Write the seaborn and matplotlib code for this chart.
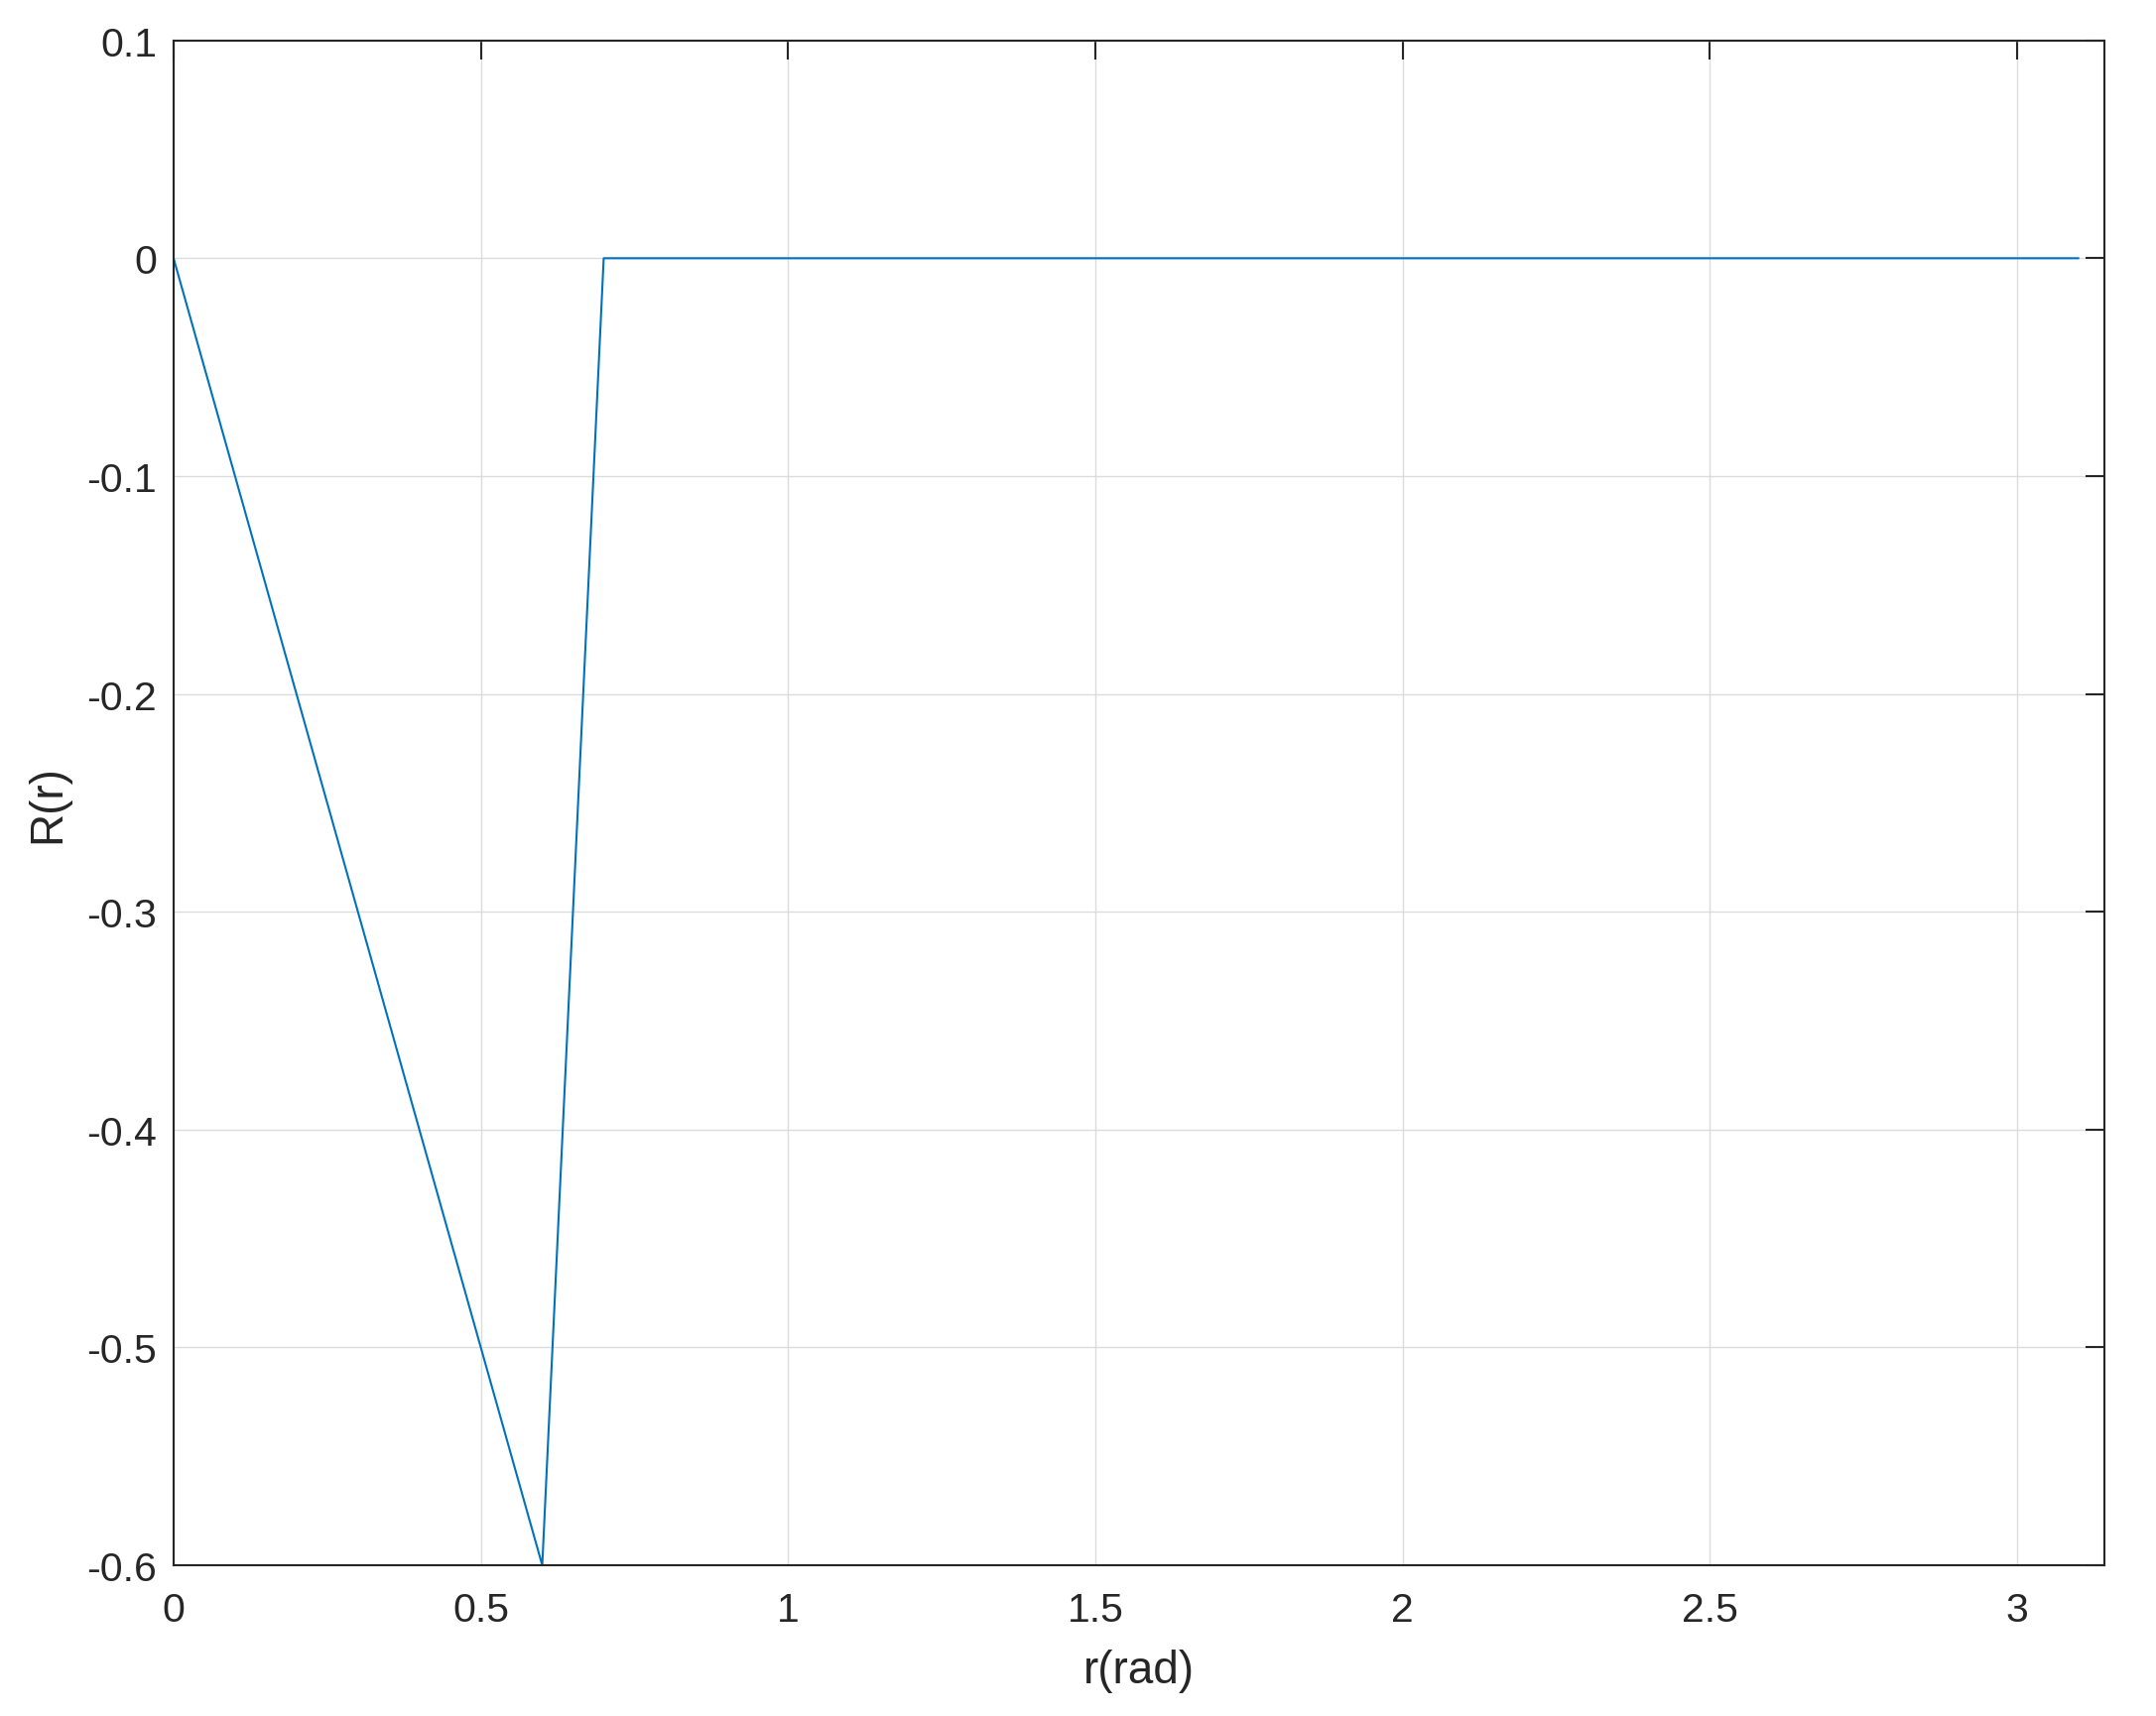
import numpy as np
import pandas as pd
import matplotlib
matplotlib.use("Agg")
import matplotlib.pyplot as plt
import seaborn as sns

r_vals = [0.0, 0.6, 0.7, 3.1]
R_vals = [0.0, -0.6, 0.0, 0.0]
x_ticks = [0, 0.5, 1, 1.5, 2, 2.5, 3]
x_tick_labels = ["0", "0.5", "1", "1.5", "2", "2.5", "3"]
y_ticks = [-0.6, -0.5, -0.4, -0.3, -0.2, -0.1, 0, 0.1]
y_tick_labels = ["-0.6", "-0.5", "-0.4", "-0.3", "-0.2", "-0.1", "0", "0.1"]

sns.set_style("white")
plt.rcParams['font.family'] = ['Liberation Sans', 'DejaVu Sans']

df = pd.DataFrame({"r": r_vals, "R": R_vals})

fig = plt.figure(figsize=(21.73, 17.31), dpi=100)
ax = fig.add_axes([0.0805, 0.0878, 0.9759 - 0.0805, 0.9759 - 0.0878])

sns.lineplot(data=df, x="r", y="R", ax=ax, color="#0072BD", linewidth=1.5,
             sort=False, estimator=None)

ax.set_xlim(0, np.pi)
ax.set_ylim(-0.6, 0.1)
ax.set_xticks(x_ticks)
ax.set_xticklabels(x_tick_labels)
ax.set_yticks(y_ticks)
ax.set_yticklabels(y_tick_labels)

ax.grid(True, color="#dcdcdc", linewidth=1.0)
ax.set_axisbelow(True)
for s in ax.spines.values():
    s.set_color("#262626")
    s.set_linewidth(1.5)

ax.tick_params(axis="both", direction="in", length=14, width=1.5, color="#262626",
               labelsize=29.5, labelcolor="#262626", top=True, right=True)
ax.tick_params(axis="x", pad=19)
ax.tick_params(axis="y", pad=12)

ax.set_xlabel("r(rad)", fontsize=33, color="#262626", labelpad=14)
ax.set_ylabel("R(r)", fontsize=33, color="#262626", labelpad=12)

fig.savefig("out.png", dpi=100, facecolor="white")
